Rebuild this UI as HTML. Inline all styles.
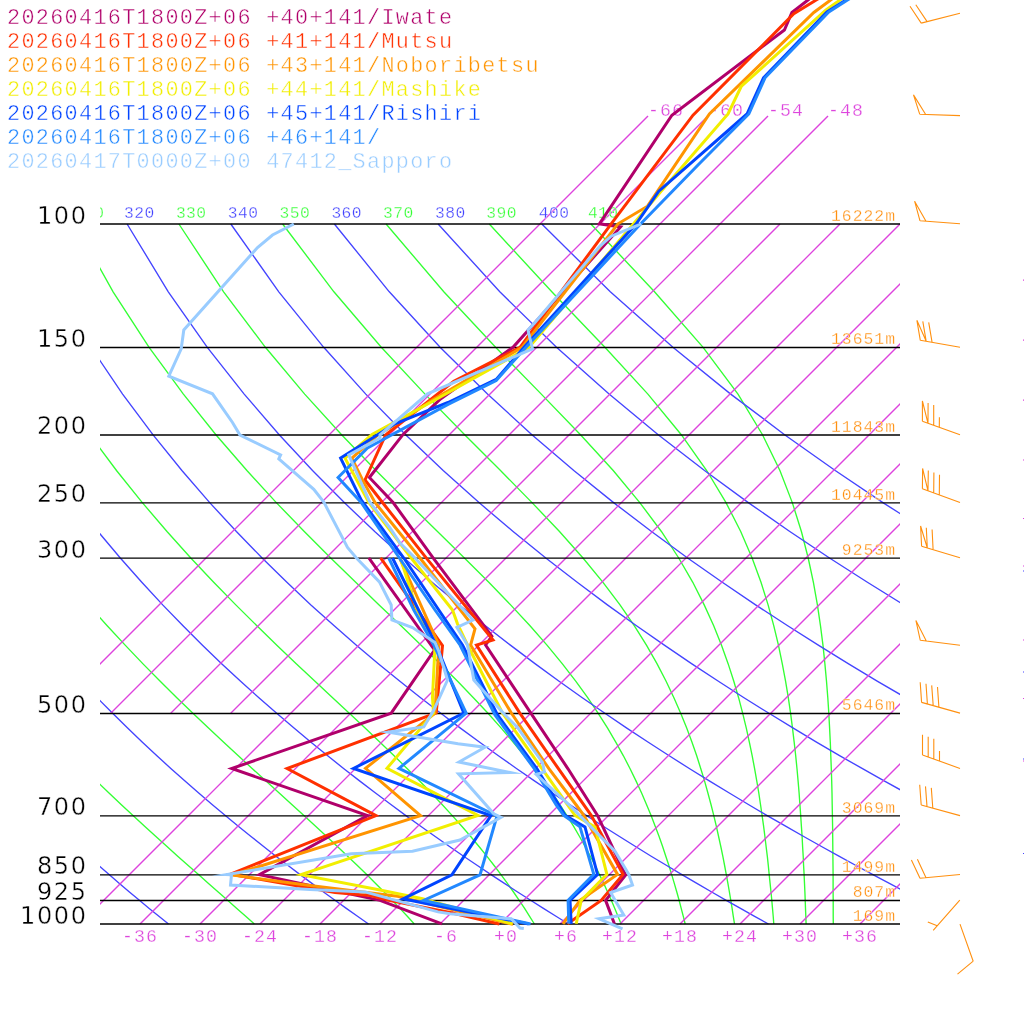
<!DOCTYPE html>
<html><head><meta charset="utf-8"><title>Emagram</title>
<style>html,body{margin:0;padding:0;background:#fff}svg{display:block}</style></head>
<body>
<svg width="1024" height="1024" viewBox="0 0 1024 1024">
<rect width="1024" height="1024" fill="#fff"/>
<defs><clipPath id="c"><rect x="100" y="0" width="800" height="1024"/></clipPath></defs>
<g clip-path="url(#c)" fill="none" stroke-width="1.35">
<polyline stroke="#33ff33" points="-235.7,224.0 -218.3,291.8 -200.0,347.3 -181.4,394.1 -163.0,434.7 -144.8,470.5 -126.9,502.6 -109.5,531.5 -92.5,558.0 -75.8,582.3 -59.6,604.9 -43.7,625.8 -28.2,645.4 -13.1,663.9 1.7,681.3 16.2,697.7 30.3,713.3 44.2,728.1 57.7,742.3 71.0,755.8 83.9,768.7 96.6,781.1 109.0,793.0 121.1,804.5 133.0,815.6 144.6,826.2 155.9,836.5 167.0,846.5 177.7,856.2 188.2,865.5 198.5,874.6 208.5,883.4 218.2,892.0 227.6,900.3 236.8,908.4 245.7,916.3 254.4,924.0"/>
<polyline stroke="#33ff33" points="-132.0,224.0 -107.9,291.8 -83.6,347.3 -59.8,394.1 -36.6,434.7 -14.1,470.5 7.7,502.6 28.8,531.5 49.3,558.0 69.2,582.3 88.5,604.9 107.2,625.8 125.4,645.4 143.0,663.9 160.2,681.3 176.8,697.7 192.9,713.3 208.5,728.1 223.7,742.3 238.3,755.8 252.4,768.7 266.0,781.1 279.2,793.0 291.8,804.5 303.9,815.6 315.6,826.2 326.7,836.5 337.4,846.5 347.6,856.2 357.4,865.5 366.7,874.6 375.6,883.4 384.1,892.0 392.2,900.3 399.9,908.4 407.3,916.3 414.3,924.0"/>
<polyline stroke="#33ff33" points="-28.4,224.0 2.6,291.8 32.8,347.3 61.8,394.1 89.7,434.7 116.5,470.5 142.3,502.6 167.0,531.5 190.8,558.0 213.7,582.3 235.8,604.9 256.9,625.8 277.1,645.4 296.5,663.9 315.0,681.3 332.6,697.7 349.3,713.3 365.1,728.1 380.0,742.3 394.1,755.8 407.3,768.7 419.7,781.1 431.3,793.0 442.1,804.5 452.3,815.6 461.8,826.2 470.7,836.5 479.0,846.5 486.8,856.2 494.1,865.5 501.0,874.6 507.4,883.4 513.5,892.0 519.2,900.3 524.6,908.4 529.6,916.3 534.4,924.0"/>
<polyline stroke="#33ff33" points="75.3,224.0 113.1,291.8 149.1,347.3 183.4,394.1 215.9,434.7 246.9,470.5 276.3,502.6 304.3,531.5 330.7,558.0 355.7,582.3 379.1,604.9 401.0,625.8 421.4,645.4 440.2,663.9 457.6,681.3 473.4,697.7 488.0,713.3 501.2,728.1 513.3,742.3 524.4,755.8 534.5,768.7 543.7,781.1 552.1,793.0 559.8,804.5 566.9,815.6 573.5,826.2 579.5,836.5 585.1,846.5 590.3,856.2 595.1,865.5 599.5,874.6 603.7,883.4 607.6,892.0 611.3,900.3 614.8,908.4 618.0,916.3 621.1,924.0"/>
<polyline stroke="#33ff33" points="178.9,224.0 223.6,291.8 265.4,347.3 304.7,394.1 341.6,434.7 376.0,470.5 408.0,502.6 437.5,531.5 464.4,558.0 488.8,582.3 510.6,604.9 530.0,625.8 547.2,645.4 562.4,663.9 575.9,681.3 587.7,697.7 598.2,713.3 607.6,728.1 615.9,742.3 623.4,755.8 630.1,768.7 636.1,781.1 641.6,793.0 646.5,804.5 651.1,815.6 655.2,826.2 659.1,836.5 662.6,846.5 665.8,856.2 668.9,865.5 671.7,874.6 674.3,883.4 676.8,892.0 679.1,900.3 681.2,908.4 683.3,916.3 685.2,924.0"/>
<polyline stroke="#33ff33" points="282.6,224.0 333.9,291.8 381.3,347.3 425.0,394.1 464.7,434.7 500.5,470.5 532.0,502.6 559.5,531.5 583.0,558.0 603.0,582.3 620.0,604.9 634.4,625.8 646.6,645.4 657.1,663.9 666.1,681.3 673.9,697.7 680.7,713.3 686.7,728.1 692.0,742.3 696.7,755.8 700.8,768.7 704.6,781.1 707.9,793.0 711.0,804.5 713.8,815.6 716.3,826.2 718.6,836.5 720.8,846.5 722.8,856.2 724.6,865.5 726.3,874.6 727.9,883.4 729.4,892.0 730.8,900.3 732.1,908.4 733.3,916.3 734.5,924.0"/>
<polyline stroke="#33ff33" points="386.1,224.0 443.8,291.8 495.6,347.3 541.3,394.1 580.5,434.7 613.2,470.5 639.8,502.6 661.4,531.5 678.7,558.0 692.8,582.3 704.2,604.9 713.7,625.8 721.6,645.4 728.2,663.9 733.8,681.3 738.6,697.7 742.7,713.3 746.3,728.1 749.4,742.3 752.2,755.8 754.6,768.7 756.8,781.1 758.8,793.0 760.5,804.5 762.1,815.6 763.6,826.2 764.9,836.5 766.1,846.5 767.3,856.2 768.3,865.5 769.2,874.6 770.1,883.4 771.0,892.0 771.8,900.3 772.5,908.4 773.2,916.3 773.8,924.0"/>
<polyline stroke="#33ff33" points="489.3,224.0 551.8,291.8 604.9,347.3 647.9,394.1 681.3,434.7 706.7,470.5 726.0,502.6 740.7,531.5 752.1,558.0 761.0,582.3 768.1,604.9 773.8,625.8 778.5,645.4 782.3,663.9 785.6,681.3 788.3,697.7 790.6,713.3 792.5,728.1 794.2,742.3 795.7,755.8 797.0,768.7 798.1,781.1 799.1,793.0 799.9,804.5 800.7,815.6 801.4,826.2 802.1,836.5 802.6,846.5 803.2,856.2 803.6,865.5 804.1,874.6 804.5,883.4 804.9,892.0 805.2,900.3 805.5,908.4 805.8,916.3 806.1,924.0"/>
<polyline stroke="#33ff33" points="590.9,224.0 654.5,291.8 703.1,347.3 738.0,394.1 762.5,434.7 779.9,470.5 792.3,502.6 801.4,531.5 808.2,558.0 813.4,582.3 817.4,604.9 820.5,625.8 823.0,645.4 824.9,663.9 826.5,681.3 827.8,697.7 828.8,713.3 829.6,728.1 830.3,742.3 830.8,755.8 831.3,768.7 831.7,781.1 832.0,793.0 832.2,804.5 832.4,815.6 832.6,826.2 832.7,836.5 832.8,846.5 832.9,856.2 833.0,865.5 833.1,874.6 833.1,883.4 833.1,892.0 833.2,900.3 833.2,908.4 833.2,916.3 833.3,924.0"/>
<polyline stroke="#4444ff" points="-287.5,224.0 -273.6,291.8 -258.2,347.3 -242.2,394.1 -226.1,434.7 -210.1,470.5 -194.3,502.6 -178.7,531.5 -163.4,558.0 -148.4,582.3 -133.7,604.9 -119.3,625.8 -105.2,645.4 -91.4,663.9 -77.9,681.3 -64.6,697.7 -51.5,713.3 -38.8,728.1 -26.2,742.3 -13.9,755.8 -1.8,768.7 10.1,781.1 21.8,793.0 33.3,804.5 44.6,815.6 55.8,826.2 66.8,836.5 77.6,846.5 88.3,856.2 98.8,865.5 109.1,874.6 119.4,883.4 129.4,892.0 139.4,900.3 149.2,908.4 158.9,916.3 168.5,924.0"/>
<polyline stroke="#4444ff" points="-183.9,224.0 -163.1,291.8 -141.8,347.3 -120.6,394.1 -99.8,434.7 -79.5,470.5 -59.6,502.6 -40.3,531.5 -21.6,558.0 -3.3,582.3 14.5,604.9 31.8,625.8 48.8,645.4 65.3,663.9 81.4,681.3 97.1,697.7 112.6,713.3 127.6,728.1 142.4,742.3 156.9,755.8 171.1,768.7 185.0,781.1 198.7,793.0 212.1,804.5 225.3,815.6 238.3,826.2 251.0,836.5 263.6,846.5 275.9,856.2 288.1,865.5 300.1,874.6 311.9,883.4 323.5,892.0 335.0,900.3 346.3,908.4 357.5,916.3 368.5,924.0"/>
<polyline stroke="#4444ff" points="-80.2,224.0 -52.6,291.8 -25.4,347.3 1.0,394.1 26.5,434.7 51.2,470.5 75.0,502.6 98.0,531.5 120.3,558.0 141.8,582.3 162.7,604.9 183.0,625.8 202.7,645.4 221.9,663.9 240.6,681.3 258.9,697.7 276.7,713.3 294.0,728.1 311.0,742.3 327.7,755.8 343.9,768.7 359.9,781.1 375.5,793.0 390.9,804.5 405.9,815.6 420.7,826.2 435.2,836.5 449.5,846.5 463.6,856.2 477.4,865.5 491.0,874.6 504.4,883.4 517.6,892.0 530.6,900.3 543.4,908.4 556.0,916.3 568.5,924.0"/>
<polyline stroke="#4444ff" points="23.5,224.0 57.9,291.8 91.0,347.3 122.6,394.1 152.9,434.7 181.9,470.5 209.7,502.6 236.4,531.5 262.1,558.0 286.9,582.3 310.9,604.9 334.2,625.8 356.7,645.4 378.6,663.9 399.9,681.3 420.6,697.7 440.8,713.3 460.4,728.1 479.7,742.3 498.4,755.8 516.8,768.7 534.8,781.1 552.4,793.0 569.7,804.5 586.6,815.6 603.2,826.2 619.5,836.5 635.5,846.5 651.2,856.2 666.7,865.5 681.9,874.6 696.9,883.4 711.7,892.0 726.2,900.3 740.5,908.4 754.6,916.3 768.5,924.0"/>
<polyline stroke="#4444ff" points="127.1,224.0 168.3,291.8 207.3,347.3 244.2,394.1 279.2,434.7 312.5,470.5 344.3,502.6 374.7,531.5 404.0,558.0 432.1,582.3 459.2,604.9 485.4,625.8 510.7,645.4 535.3,663.9 559.1,681.3 582.3,697.7 604.9,713.3 626.8,728.1 648.3,742.3 669.2,755.8 689.7,768.7 709.7,781.1 729.3,793.0 748.4,804.5 767.2,815.6 785.6,826.2 803.7,836.5 821.5,846.5 838.9,856.2 856.0,865.5 872.9,874.6 889.4,883.4 905.7,892.0 921.8,900.3 937.6,908.4 953.2,916.3 968.5,924.0"/>
<polyline stroke="#4444ff" points="230.8,224.0 278.8,291.8 323.7,347.3 365.8,394.1 405.6,434.7 443.2,470.5 479.0,502.6 513.1,531.5 545.8,558.0 577.2,582.3 607.4,604.9 636.5,625.8 664.7,645.4 691.9,663.9 718.4,681.3 744.0,697.7 769.0,713.3 793.3,728.1 816.9,742.3 840.0,755.8 862.5,768.7 884.6,781.1 906.1,793.0 927.2,804.5 947.9,815.6 968.1,826.2 988.0,836.5 1007.4,846.5 1026.6,856.2 1045.3,865.5 1063.8,874.6 1082.0,883.4 1099.8,892.0 1117.4,900.3 1134.7,908.4 1151.7,916.3 1168.5,924.0"/>
<polyline stroke="#4444ff" points="334.4,224.0 389.3,291.8 440.1,347.3 487.5,394.1 531.9,434.7 573.8,470.5 613.6,502.6 651.5,531.5 687.6,558.0 722.3,582.3 755.6,604.9 787.7,625.8 818.7,645.4 848.6,663.9 877.6,681.3 905.7,697.7 933.1,713.3 959.7,728.1 985.5,742.3 1010.8,755.8 1035.4,768.7 1059.5,781.1 1083.0,793.0 1106.0,804.5 1128.5,815.6 1150.6,826.2 1172.2,836.5 1193.4,846.5 1214.2,856.2 1234.7,865.5 1254.7,874.6 1274.5,883.4 1293.9,892.0 1313.0,900.3 1331.8,908.4 1350.3,916.3 1368.5,924.0"/>
<polyline stroke="#4444ff" points="438.1,224.0 499.8,291.8 556.5,347.3 609.1,394.1 658.2,434.7 704.5,470.5 748.3,502.6 789.8,531.5 829.5,558.0 867.4,582.3 903.8,604.9 938.9,625.8 972.6,645.4 1005.3,663.9 1036.8,681.3 1067.5,697.7 1097.2,713.3 1126.1,728.1 1154.2,742.3 1181.6,755.8 1208.3,768.7 1234.4,781.1 1259.8,793.0 1284.8,804.5 1309.1,815.6 1333.0,826.2 1356.4,836.5 1379.4,846.5 1401.9,856.2 1424.0,865.5 1445.7,874.6 1467.0,883.4 1488.0,892.0 1508.6,900.3 1528.9,908.4 1548.8,916.3 1568.5,924.0"/>
<polyline stroke="#4444ff" points="541.8,224.0 610.3,291.8 672.9,347.3 730.7,394.1 784.6,434.7 835.2,470.5 882.9,502.6 928.2,531.5 971.3,558.0 1012.5,582.3 1052.0,604.9 1090.0,625.8 1126.6,645.4 1161.9,663.9 1196.1,681.3 1229.2,697.7 1261.3,713.3 1292.5,728.1 1322.8,742.3 1352.3,755.8 1381.1,768.7 1409.3,781.1 1436.7,793.0 1463.5,804.5 1489.8,815.6 1515.5,826.2 1540.7,836.5 1565.3,846.5 1589.5,856.2 1613.3,865.5 1636.6,874.6 1659.5,883.4 1682.0,892.0 1704.2,900.3 1726.0,908.4 1747.4,916.3 1768.5,924.0"/>
<line stroke="#dd44dd" x1="50.7" y1="713.3" x2="648.0" y2="116.0"/>
<line stroke="#dd44dd" x1="110.7" y1="713.3" x2="708.0" y2="116.0"/>
<line stroke="#dd44dd" x1="170.7" y1="713.3" x2="768.0" y2="116.0"/>
<line stroke="#dd44dd" x1="230.7" y1="713.3" x2="828.0" y2="116.0"/>
<line stroke="#dd44dd" x1="80.0" y1="924.0" x2="780.0" y2="224.0"/>
<line stroke="#dd44dd" x1="140.0" y1="924.0" x2="840.0" y2="224.0"/>
<line stroke="#dd44dd" x1="200.0" y1="924.0" x2="900.0" y2="224.0"/>
<line stroke="#dd44dd" x1="260.0" y1="924.0" x2="960.0" y2="224.0"/>
<line stroke="#dd44dd" x1="320.0" y1="924.0" x2="1020.0" y2="224.0"/>
<line stroke="#dd44dd" x1="380.0" y1="924.0" x2="1080.0" y2="224.0"/>
<line stroke="#dd44dd" x1="440.0" y1="924.0" x2="1140.0" y2="224.0"/>
<line stroke="#dd44dd" x1="500.0" y1="924.0" x2="1200.0" y2="224.0"/>
<line stroke="#dd44dd" x1="560.0" y1="924.0" x2="1260.0" y2="224.0"/>
<line stroke="#dd44dd" x1="620.0" y1="924.0" x2="1320.0" y2="224.0"/>
<line stroke="#dd44dd" x1="680.0" y1="924.0" x2="1380.0" y2="224.0"/>
<line stroke="#dd44dd" x1="740.0" y1="924.0" x2="1440.0" y2="224.0"/>
<line stroke="#dd44dd" x1="800.0" y1="924.0" x2="1500.0" y2="224.0"/>
<line stroke="#dd44dd" x1="860.0" y1="924.0" x2="1560.0" y2="224.0"/>
</g>
<g clip-path="url(#c)" font-family="'Liberation Mono', monospace" font-size="16.3px" letter-spacing="0.4px" stroke="#fff" stroke-width="0.3">
<text x="73.8" y="217.5" fill="#33ff33">310</text>
<text x="124.1" y="217.5" fill="#4444ff">320</text>
<text x="175.9" y="217.5" fill="#33ff33">330</text>
<text x="227.8" y="217.5" fill="#4444ff">340</text>
<text x="279.6" y="217.5" fill="#33ff33">350</text>
<text x="331.4" y="217.5" fill="#4444ff">360</text>
<text x="383.1" y="217.5" fill="#33ff33">370</text>
<text x="435.1" y="217.5" fill="#4444ff">380</text>
<text x="486.3" y="217.5" fill="#33ff33">390</text>
<text x="538.8" y="217.5" fill="#4444ff">400</text>
<text x="587.9" y="217.5" fill="#33ff33">410</text>
</g>
<line x1="100" x2="900" y1="224.0" y2="224.0" stroke="#000" stroke-width="1.3"/>
<line x1="100" x2="900" y1="347.5" y2="347.5" stroke="#000" stroke-width="1.3"/>
<line x1="100" x2="900" y1="435.0" y2="435.0" stroke="#000" stroke-width="1.3"/>
<line x1="100" x2="900" y1="502.8" y2="502.8" stroke="#000" stroke-width="1.3"/>
<line x1="100" x2="900" y1="558.2" y2="558.2" stroke="#000" stroke-width="1.3"/>
<line x1="100" x2="900" y1="713.5" y2="713.5" stroke="#000" stroke-width="1.3"/>
<line x1="100" x2="900" y1="815.8" y2="815.8" stroke="#000" stroke-width="1.3"/>
<line x1="100" x2="900" y1="874.8" y2="874.8" stroke="#000" stroke-width="1.3"/>
<line x1="100" x2="900" y1="900.5" y2="900.5" stroke="#000" stroke-width="1.3"/>
<line x1="100" x2="900" y1="924.0" y2="924.0" stroke="#000" stroke-width="1.3"/>
<g font-family="'DejaVu Sans', sans-serif" font-size="24px" letter-spacing="1.7px" text-anchor="end" fill="#000" stroke="#fff" stroke-width="0.4">
<text x="87.8" y="223.6">100</text>
<text x="87.8" y="346.9">150</text>
<text x="87.8" y="434.3">200</text>
<text x="87.8" y="502.2">250</text>
<text x="87.8" y="557.6">300</text>
<text x="87.8" y="712.9">500</text>
<text x="87.8" y="815.2">700</text>
<text x="87.8" y="874.2">850</text>
<text x="87.8" y="899.9">925</text>
<text x="87.8" y="923.6">1000</text>
</g>
<g font-family="'Liberation Mono', monospace" font-size="16.4px" letter-spacing="1px" text-anchor="end" stroke="#fff" stroke-width="0.3" fill="#ff9010">
<text x="896" y="221.0">16222m</text>
<text x="896" y="344.3">13651m</text>
<text x="896" y="431.7">11843m</text>
<text x="896" y="499.6">10445m</text>
<text x="896" y="555.0">9253m</text>
<text x="896" y="710.3">5646m</text>
<text x="896" y="812.6">3069m</text>
<text x="896" y="871.6">1499m</text>
<text x="896" y="897.3">807m</text>
<text x="896" y="921.0">169m</text>
</g>
<g font-family="'Liberation Mono', monospace" font-size="18.2px" letter-spacing="1.1px" stroke="#fff" stroke-width="0.3" fill="#dd44dd">
<text x="122.0" y="942">-36</text>
<text x="182.0" y="942">-30</text>
<text x="242.0" y="942">-24</text>
<text x="302.0" y="942">-18</text>
<text x="362.0" y="942">-12</text>
<text x="434.0" y="942">-6</text>
<text x="494.0" y="942">+0</text>
<text x="554.0" y="942">+6</text>
<text x="602.0" y="942">+12</text>
<text x="662.0" y="942">+18</text>
<text x="722.0" y="942">+24</text>
<text x="782.0" y="942">+30</text>
<text x="842.0" y="942">+36</text>
<text x="648.0" y="116">-66</text>
<text x="708.0" y="116">-60</text>
<text x="768.0" y="116">-54</text>
<text x="828.0" y="116">-48</text>
</g>
<g fill="none" stroke-width="3" stroke-linejoin="miter" stroke-miterlimit="10">
<polyline stroke="#b0006a" points="614.4,923.8 605.6,900.4 625.6,875.0 597.5,815.4 568.0,768.8 531.0,713.3 485.6,645.0 491.9,636.2 433.1,557.9 393.1,502.5 369.4,477.5 403.1,434.4 440.5,399.0 513.0,347.3 620.6,226.9 599.4,223.8 671.9,115.2 784.4,30.0 791.9,12.5 808.0,0.0 990.0,-142.0"/>
<polyline stroke="#b0006a" points="441.9,923.8 380.0,900.4 259.4,874.6 367.5,815.6 231.7,768.5 391.2,713.2 434.5,650.0 368.8,557.8"/>
<polyline stroke="#ff3000" points="567.5,923.8 601.2,900.4 623.0,874.4 591.2,815.4 558.4,768.7 520.0,713.3 476.5,645.0 493.0,640.0 426.2,557.9 382.5,502.5 365.0,480.0 385.6,435.0 453.8,381.2 520.0,347.3 611.2,223.8 693.0,115.2 793.8,13.8 816.2,0.0 1050.0,-142.0"/>
<polyline stroke="#ff3000" points="499.4,924.0 450.0,912.5 390.0,900.6 370.0,895.6 335.0,892.5 230.5,874.2 376.0,815.6 287.1,768.5 436.2,713.0 442.5,645.6 380.6,557.8"/>
<polyline stroke="#ff9400" points="563.0,923.8 580.0,900.4 617.5,874.4 583.8,815.4 576.2,805.0 548.9,768.7 511.5,713.3 470.6,645.0 475.0,628.8 420.0,558.0 375.0,502.5 362.5,480.0 351.9,458.1 378.0,435.0 400.0,421.2 432.5,400.0 512.5,353.0 522.0,347.3 618.0,223.8 647.5,206.2 709.4,114.0 813.8,12.5 830.6,0.0 1022.0,-142.0"/>
<polyline stroke="#ff9400" points="513.0,924.4 397.5,896.2 310.0,885.6 232.0,875.0 420.5,815.6 365.5,768.4 435.0,713.2 438.8,645.0 400.0,558.8"/>
<polyline stroke="#f2ee00" points="576.2,923.8 581.2,900.4 606.9,874.4 595.0,826.9 575.0,815.4 542.0,768.7 502.6,713.3 469.4,648.8 457.5,623.8 452.5,610.0 411.2,558.0 368.8,502.5 345.0,458.1 372.0,434.4 435.0,400.0 529.0,347.3 632.5,225.0 660.0,192.5 728.0,114.0 741.2,86.5 826.0,10.0 840.0,0.0 1039.0,-142.0"/>
<polyline stroke="#f2ee00" points="512.5,923.8 422.5,898.8 380.0,890.0 301.0,874.6 478.0,815.5 387.0,768.4 433.5,713.0 432.5,697.5 435.0,646.2 416.2,607.5 400.6,558.8"/>
<polyline stroke="#0044ff" points="571.2,923.8 570.0,900.4 597.5,874.4 585.0,826.9 565.0,815.4 536.8,768.7 497.5,715.0 462.5,645.0 438.8,610.0 403.8,558.0 361.2,500.0 340.6,458.1 395.0,423.8 448.0,402.5 496.2,379.4 525.0,346.2 636.0,224.0 658.8,191.2 747.0,114.0 763.5,77.8 827.0,12.0 846.0,0.0 1070.0,-142.0"/>
<polyline stroke="#0044ff" points="528.8,924.0 403.0,898.8 451.9,874.8 491.0,815.5 353.5,768.4 463.8,713.0 436.2,645.0 392.5,558.0"/>
<polyline stroke="#2288ff" points="568.8,923.8 568.1,900.4 593.8,874.4 580.0,826.9 563.8,815.4 556.2,805.0 534.3,768.7 495.0,715.0 460.0,645.0 435.0,610.0 399.4,558.0 361.2,502.5 338.1,477.5 367.5,448.0 448.0,404.4 496.2,380.5 526.0,347.3 640.5,224.0 698.0,165.0 748.8,114.0 765.0,77.8 828.8,11.9 847.5,0.0 1071.0,-142.0"/>
<polyline stroke="#2288ff" points="530.6,924.0 423.5,900.4 480.0,874.8 497.0,816.0 399.0,768.4 466.2,713.1 433.8,645.0 413.8,610.0 388.8,558.0"/>
<polyline stroke="#99ccff" points="641.2,223.8 611.2,236.2 600.0,246.0 535.0,322.5 528.0,330.0 532.5,348.8 427.5,393.8 380.0,435.0 380.0,438.0 348.8,455.0 370.0,502.5 390.0,528.0 400.0,543.0 415.0,558.0 473.0,620.0 456.9,627.5 467.5,645.0 473.8,680.0 505.0,715.0 517.5,727.5 542.5,762.5 544.4,771.9 536.2,774.4 568.0,803.8 615.0,851.2 628.8,874.4 632.5,885.0 610.6,892.5 623.8,915.0 599.0,918.8 622.5,928.8"/>
<polyline stroke="#99ccff" points="293.8,224.0 272.5,235.0 257.5,247.5 183.8,330.0 181.2,348.8 168.8,376.2 212.5,393.8 232.5,422.5 240.0,435.0 280.6,455.0 278.8,458.8 313.8,489.4 323.8,502.1 347.5,547.5 356.2,557.8 379.4,581.9 391.2,605.0 391.9,620.0 412.5,627.5 435.0,642.5 438.8,651.2 447.5,680.0 433.8,710.0 423.8,726.9 388.0,732.0 458.0,743.8 485.0,747.2 459.0,762.0 510.0,772.5 458.5,773.8 493.8,813.8 501.0,817.3 460.0,840.0 412.5,851.2 351.2,853.8 226.5,874.6 231.5,874.8 230.5,885.0 310.0,889.4 365.0,891.9 438.0,911.9 450.0,913.8 511.2,918.8 520.0,928.0 523.8,928.5"/>
</g>
<g font-family="'Liberation Mono', monospace" font-size="21.8px" letter-spacing="1.32px" stroke="#fff" stroke-width="0.45">
<text x="7" y="23.5" fill="#b0006a" xml:space="preserve">20260416T1800Z+06 +40+141/Iwate</text>
<text x="7" y="47.5" fill="#ff3000" xml:space="preserve">20260416T1800Z+06 +41+141/Mutsu</text>
<text x="7" y="71.5" fill="#ff9400" xml:space="preserve">20260416T1800Z+06 +43+141/Noboribetsu</text>
<text x="7" y="95.5" fill="#f2ee00" xml:space="preserve">20260416T1800Z+06 +44+141/Mashike</text>
<text x="7" y="119.5" fill="#0044ff" xml:space="preserve">20260416T1800Z+06 +45+141/Rishiri</text>
<text x="7" y="143.5" fill="#2288ff" xml:space="preserve">20260416T1800Z+06 +46+141/</text>
<text x="7" y="167.5" fill="#99ccff" xml:space="preserve">20260417T0000Z+00 47412_Sapporo</text>
</g>
<g fill="none" stroke="#ff9010" stroke-width="1.1" stroke-linejoin="miter">
<path d="M960.0 13.2 L921.2 23.1 M921.2 23.1 L910.0 6.3 M927.1 21.6 L915.8 4.8"/>
<path d="M960.0 115.6 L919.7 114.2 M919.7 114.2 L913.5 94.9 L925.7 114.5"/>
<path d="M960.0 223.8 L920.0 220.8 M920.0 220.8 L914.6 201.2 L926.0 221.2"/>
<path d="M960.0 347.2 L920.3 340.3 M920.3 340.3 L916.9 320.3 L926.2 341.3 M926.2 341.3 L922.8 321.3 M932.1 342.4 L928.7 322.4"/>
<path d="M960.0 434.7 L922.4 421.2 M922.4 421.2 L922.4 401.0 L928.0 423.3 M928.0 423.3 L928.1 403.0 M933.7 425.3 L933.7 405.0 M939.3 427.3 L939.4 417.2"/>
<path d="M960.0 502.6 L922.4 488.8 M922.4 488.8 L922.6 468.5 L928.0 490.8 M928.0 490.8 L928.3 470.6 M933.7 492.9 L933.9 472.6 M939.3 495.0 L939.5 474.7"/>
<path d="M960.0 557.8 L921.6 546.2 M921.6 546.2 L920.6 526.0 L927.3 548.0 M927.3 548.0 L926.3 527.7 M933.1 549.7 L932.1 529.5"/>
<path d="M960.0 645.3 L920.3 640.3 M920.3 640.3 L915.9 620.5 L926.3 641.0"/>
<path d="M960.0 713.1 L921.6 702.4 M921.6 702.4 L920.2 682.2 M927.4 704.0 L926.0 683.8 M933.2 705.6 L931.7 685.4 M938.9 707.2 L937.5 687.0"/>
<path d="M960.0 768.4 L922.5 755.0 M922.5 755.0 L922.5 734.7 M928.2 757.0 L928.2 736.7 M933.8 759.0 L933.8 738.8 M939.5 761.1 L939.5 750.9"/>
<path d="M960.0 815.6 L921.2 805.0 M921.2 805.0 L919.7 784.8 M927.0 806.6 L925.5 786.4 M932.8 808.2 L931.3 787.9"/>
<path d="M960.0 874.5 L920.0 878.2 M920.0 878.2 L911.4 859.9 M926.0 877.7 L917.4 859.3"/>
<path d="M959.8 900.2 L933.2 930.3 M937.2 925.8 L927.8 922.0"/>
<path d="M960.0 924.1 L973.2 961.2 M973.2 961.2 L957.5 974.1"/>
</g>
<g stroke-width="1.2">
<line x1="1023" x2="1024" y1="280.2" y2="280.2" stroke="#dd44dd"/>
<line x1="1023" x2="1024" y1="340.2" y2="340.2" stroke="#dd44dd"/>
<line x1="1023" x2="1024" y1="400.2" y2="400.2" stroke="#dd44dd"/>
<line x1="1023" x2="1024" y1="460.0" y2="460.0" stroke="#dd44dd"/>
<line x1="1023" x2="1024" y1="518.5" y2="518.5" stroke="#dd44dd"/>
<line x1="1023" x2="1024" y1="566.0" y2="566.0" stroke="#dd44dd"/>
<line x1="1023" x2="1024" y1="571.0" y2="571.0" stroke="#4444ff"/>
<line x1="1023" x2="1024" y1="640.0" y2="640.0" stroke="#dd44dd"/>
<line x1="1023" x2="1024" y1="672.0" y2="672.0" stroke="#4444ff"/>
<line x1="1023" x2="1024" y1="698.5" y2="698.5" stroke="#dd44dd"/>
<line x1="1023" x2="1024" y1="759.0" y2="759.0" stroke="#4444ff"/>
<line x1="1023" x2="1024" y1="761.0" y2="761.0" stroke="#dd44dd"/>
<line x1="1023" x2="1024" y1="853.5" y2="853.5" stroke="#4444ff"/>
</g>
</svg>
</body></html>
